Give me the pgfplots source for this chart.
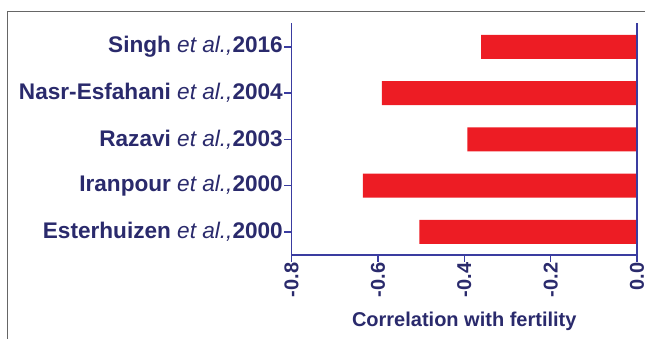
\documentclass[border=0pt]{standalone}
\usepackage{fontspec}
\setmainfont{Liberation Sans}
\usepackage{pgfplots}
\pgfplotsset{compat=1.18}
\definecolor{barred}{RGB}{237,28,36}
\definecolor{navytext}{RGB}{42,42,108}
\definecolor{axisblue}{RGB}{58,60,160}
\begin{document}
\begin{tikzpicture}
\useasboundingbox (0,0) rectangle (645pt,339pt);
\draw[color=black!60, line width=1pt] (645pt,327pt) -- (7pt,327pt) -- (7pt,0pt);
\begin{axis}[
  at={(291.5pt,84pt)}, anchor=south west,
  scale only axis, width=345.5pt, height=232.3pt,
  xmin=-0.8, xmax=0, ymin=-0.5, ymax=4.52,
  axis x line*=bottom, axis y line*=left,
  axis line style={axisblue, line width=1.5pt, -},
  tick style={axisblue, line width=1.5pt},
  tick align=outside, major tick length=7pt,
  xtick={-0.8,-0.6,-0.4,-0.2,0},
  xticklabels={\textbf{-0.8},\textbf{-0.6},\textbf{-0.4},\textbf{-0.2},\textbf{0.0}},
  xticklabel style={rotate=90, anchor=east, font=\fontsize{20}{22}\selectfont, text=navytext, inner sep=0.5pt},
  ytick={0,1,2,3,4},
  yticklabels={{\textbf{Esterhuizen} \textit{et al.,}\textbf{2000}},
               {\textbf{Iranpour} \textit{et al.,}\textbf{2000}},
               {\textbf{Razavi} \textit{et al.,}\textbf{2003}},
               {\textbf{Nasr-Esfahani} \textit{et al.,}\textbf{2004}},
               {\textbf{Singh} \textit{et al.,}\textbf{2016}}},
  yticklabel style={font=\fontsize{22.6}{25}\selectfont, text=navytext, inner sep=1.5pt},
  xlabel={\textbf{Correlation with fertility}},
  xlabel style={font=\fontsize{20}{22}\selectfont, text=navytext, yshift=-11pt},
  clip=false,
]
\addplot[xbar, fill=barred, draw=none, bar width=24pt] coordinates {
  (-0.504,0) (-0.635,1) (-0.393,2) (-0.591,3) (-0.361,4)};
\draw[axisblue, line width=1.5pt] (axis cs:0,-0.5) -- (axis cs:0,4.52);
\end{axis}
\end{tikzpicture}
\end{document}
